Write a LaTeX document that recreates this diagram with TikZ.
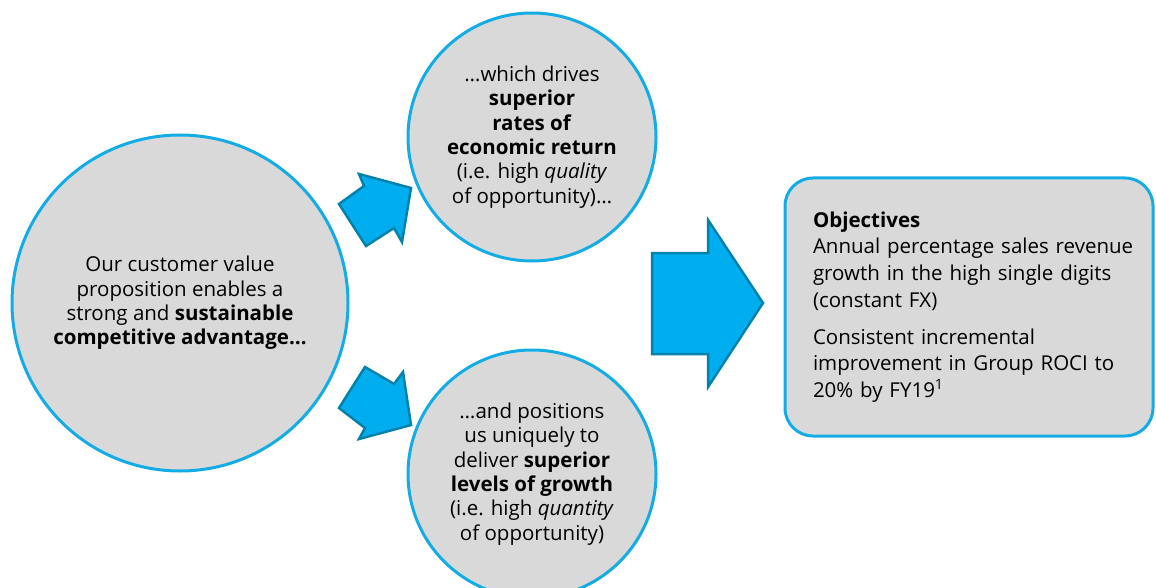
\documentclass[tikz,border=0pt]{standalone}
\usepackage{fontspec}
\setmainfont{Open Sans}
\usepackage{tikz}
\usetikzlibrary{positioning, calc}
\definecolor{ringblue}{RGB}{20,172,228}
\definecolor{bubblegray}{RGB}{217,217,217}
\definecolor{arrowfill}{RGB}{0,174,239}
\definecolor{arrowedge}{RGB}{0,130,172}

\begin{document}
\begin{tikzpicture}[x=1pt, y=-1pt,
  bubble/.style={circle, draw=ringblue, line width=3pt, fill=bubblegray,
    align=center, inner sep=0pt, font=\fontsize{20.5}{24.3}\selectfont},
  goalbox/.style={rectangle, rounded corners=28pt, draw=ringblue, line width=3pt,
    fill=bubblegray, align=left, inner sep=0pt, font=\fontsize{20.5}{26.7}\selectfont},
  blockarrow/.style={draw=arrowedge, line width=2.5pt, fill=arrowfill, line join=miter}]

  \useasboundingbox (0,0) rectangle (1156,588);
  \clip (0,0) rectangle (1156,588);

  % --- Cerchi ---
  \node[bubble, minimum size=336pt] (advantage) at (180,303)
    {Our customer value\\ proposition enables a\\ strong and \textbf{sustainable}\\
     \textbf{competitive advantage…}};
  \node[bubble, minimum size=248pt] (returns) at (532,137)
    {…which drives\\ \textbf{superior}\\ \textbf{rates of}\\ \textbf{economic return}\\
     (i.e. high \textit{quality}\\ of opportunity)…};
  \node[bubble, minimum size=248pt] (growth) at (532,474)
    {…and positions\\ us uniquely to\\ deliver \textbf{superior}\\ \textbf{levels of growth}\\
     (i.e. high \textit{quantity}\\ of opportunity)};

  % --- Riquadro obiettivi ---
  \node[goalbox, minimum width=368pt, minimum height=258pt, text width=312pt] (goals) at (969,307)
    {\textbf{Objectives}\\ \mbox{Annual percentage sales revenue}\\ growth in the high single digits\\
     (constant FX)\\[10pt] Consistent incremental\\ improvement in Group ROCI to\\
     20\% by FY19\textsuperscript{1}};

  % --- Frecce piccole ---
  \draw[blockarrow] (339,204) -- (364,186) -- (359,174) -- (411,188)
    -- (402,242) -- (394,228) -- (366,246) -- cycle;
  \draw[blockarrow] (339,408) -- (365,428) -- (359,439) -- (411,425)
    -- (403,372) -- (394,384) -- (365,367) -- cycle;

  % --- Freccia grande ---
  \draw[blockarrow] (652,253) -- (708,253) -- (708,220) -- (763,303)
    -- (708,387) -- (708,354) -- (652,354) -- cycle;

\end{tikzpicture}
\end{document}
